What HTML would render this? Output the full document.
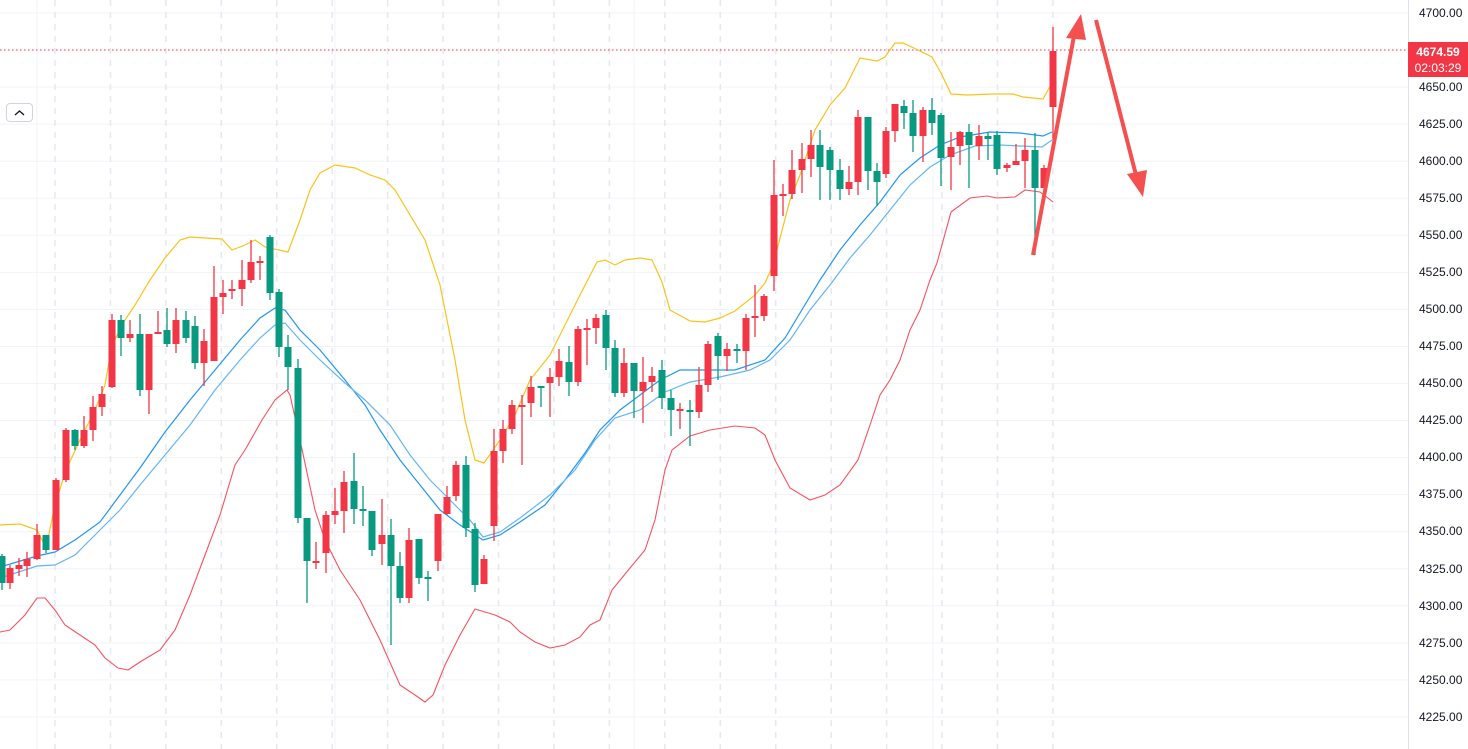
<!DOCTYPE html>
<html><head><meta charset="utf-8"><style>
html,body{margin:0;padding:0;background:#fff;width:1468px;height:749px;overflow:hidden;font-family:"Liberation Sans",sans-serif}
#c{position:absolute;left:0;top:0}
.lb{position:absolute;left:1419px;font-size:12px;color:#131722;line-height:14px}
#btn{position:absolute;left:6px;top:103px;width:25px;height:17px;border:1px solid #d1d4dc;border-radius:4px;background:#fff}
#tag{position:absolute;left:1408px;top:42px;width:60px;height:35px;background:#f23645;color:#fff;font-size:12px;text-align:center;line-height:16px;padding-top:2px;box-sizing:border-box}
</style></head><body>
<svg id="c" width="1468" height="749" xmlns="http://www.w3.org/2000/svg"></svg>
<div id="btn"><svg width="25" height="17"><polyline points="8,11 12.5,7 17,11" fill="none" stroke="#131722" stroke-width="1.3"/></svg></div>
<div class="lb" style="top:6px">4700.00</div>
<div class="lb" style="top:80px">4650.00</div>
<div class="lb" style="top:117px">4625.00</div>
<div class="lb" style="top:154px">4600.00</div>
<div class="lb" style="top:191px">4575.00</div>
<div class="lb" style="top:228px">4550.00</div>
<div class="lb" style="top:265px">4525.00</div>
<div class="lb" style="top:302px">4500.00</div>
<div class="lb" style="top:339px">4475.00</div>
<div class="lb" style="top:376px">4450.00</div>
<div class="lb" style="top:413px">4425.00</div>
<div class="lb" style="top:450px">4400.00</div>
<div class="lb" style="top:487px">4375.00</div>
<div class="lb" style="top:524px">4350.00</div>
<div class="lb" style="top:562px">4325.00</div>
<div class="lb" style="top:599px">4300.00</div>
<div class="lb" style="top:636px">4275.00</div>
<div class="lb" style="top:673px">4250.00</div>
<div class="lb" style="top:710px">4225.00</div>
<div id="tag"><b>4674.59</b><br>02:03:29</div>
<script>
var s='';
for(var i=0;i<20;i++){var y=13+i*37.05;s+='<line x1="0" x2="1408" y1="'+y+'" y2="'+y+'" stroke="#f0f3fa" stroke-width="1"/>';}
[37,335,634,933].forEach(function(x){s+='<line x1="'+x+'" x2="'+x+'" y1="0" y2="749" stroke="#f0f3fa"/>';});
for(var k=0;k<=18;k++){var x=55+k*55.44;s+='<line x1="'+x+'" x2="'+x+'" y1="0" y2="749" stroke="#e6e8ef" stroke-dasharray="6,6" stroke-width="1.5"/>';}
s+='<line x1="1408.5" x2="1408.5" y1="0" y2="749" stroke="#e0e3eb"/>';
s+='<line x1="0" x2="1408" y1="50" y2="50" stroke="#f23645" stroke-dasharray="1.5,2.5"/>';
function pl(p,c,w){s+='<polyline fill="none" stroke="'+c+'" stroke-width="'+w+'" points="'+p+'"/>';}
pl("0,525 20,524 37,530 46,548 55,505 66,470 80,440 95,410 105,385 112,345 125,320 135,305 150,280 165,258 180,240 190,237 205,238 222,239 232,250 245,245 255,240 265,247 288,252 300,220 310,190 320,173 335,165 355,168 370,175 385,180 395,190 410,215 425,240 440,285 455,360 465,420 475,460 484,463 500,440 515,415 530,380 550,355 565,325 580,295 597,262 605,260 615,265 625,260 640,258 652,260 662,282 670,310 690,321 705,322 720,318 735,311 755,295 765,283 773,265 790,200 800,175 815,130 830,105 845,88 860,58 877,61 885,57 895,43 903,43 918,50 932,57 942,75 951,94 967,95 993,94 1013,94 1023,97 1043,99 1052,83","#fcc21b",1.2);
pl("0,567 37,556 55,552 75,540 100,522 120,495 140,468 165,432 190,400 215,370 240,340 260,318 275,308 285,310 300,330 320,350 345,380 365,405 380,430 400,460 420,485 440,510 460,525 483,540 500,535 520,522 545,505 565,480 585,453 600,430 620,410 640,395 660,380 680,370 710,370 735,370 765,360 785,338 800,313 820,280 840,250 860,225 880,202 900,175 920,158 940,145 960,137 990,132 1020,133 1043,136 1052,132","#2196f3",1.2);
pl("0,578 37,566 55,565 75,555 100,530 120,510 140,485 165,455 190,425 215,390 240,360 260,338 275,325 285,323 300,340 320,360 345,383 365,400 390,425 410,455 430,480 450,500 470,520 483,537 500,532 520,518 550,495 575,470 595,440 615,418 640,410 665,392 690,382 720,377 750,370 770,360 790,340 810,310 830,285 850,258 870,235 890,210 910,185 930,167 950,155 975,146 1000,145 1020,146 1042,147 1052,140","#64b5f6",1.2);
pl("0,632 10,630 25,615 37,598 45,598 55,610 65,625 80,635 95,645 105,658 118,668 128,670 140,662 160,650 175,630 190,595 205,555 220,515 235,465 245,450 262,420 275,400 287,390 290,395 300,440 315,510 325,540 340,570 360,600 380,640 400,685 415,695 425,702 433,695 445,665 460,635 475,609 495,615 510,622 520,632 535,642 550,648 565,645 580,637 590,625 600,620 612,590 630,568 645,550 655,520 665,470 672,450 690,436 710,430 735,426 755,428 765,435 775,460 790,488 810,500 825,495 840,485 858,460 870,425 880,395 890,380 900,360 910,330 920,310 930,280 937,263 951,212 970,198 987,196 997,198 1015,197 1025,190 1040,192 1053,202","#f7525f",1.1);
var C=[[2,556,583,554,590,'g'],[10,568,583,565,589,'r'],[19,565,569,558,576,'r'],[27,559,566,552,577,'r'],[37,535,559,524,560,'r'],[46,535,550,535,553,'g'],[56,480,550,478,550,'r'],[66,430,480,428,482,'r'],[75,430,446,429,450,'g'],[84,430,446,416,448,'r'],[93,407,430,396,441,'r'],[102,394,407,386,416,'r'],[112,320,387,314,388,'r'],[121,320,338,315,356,'g'],[130,334,338,320,342,'r'],[140,334,390,314,396,'g'],[149,334,390,334,414,'r'],[158,332,334,311,334,'r'],[167,330,344,308,347,'g'],[176,320,344,308,353,'r'],[186,320,338,311,343,'g'],[195,326,363,316,369,'g'],[204,341,363,329,386,'r'],[214,297,361,266,361,'r'],[223,293,297,280,314,'r'],[232,289,291,280,299,'r'],[242,280,289,260,306,'r'],[251,262,280,240,283,'r'],[260,261,263,256,280,'r'],[270,237,293,235,300,'g'],[279,292,347,289,357,'g'],[288,347,367,335,390,'g'],[298,368,518,359,523,'g'],[307,518,561,518,603,'g'],[316,561,562,542,569,'r'],[326,515,553,511,573,'r'],[335,511,515,488,524,'r'],[344,482,511,471,533,'r'],[354,481,509,453,524,'g'],[363,509,511,486,526,'g'],[372,511,550,511,556,'g'],[382,535,544,499,565,'r'],[391,535,566,519,645,'g'],[400,566,598,552,603,'g'],[409,540,598,528,603,'r'],[419,539,578,539,584,'g'],[428,577,579,571,601,'g'],[438,514,561,514,571,'r'],[447,497,514,486,515,'r'],[456,465,496,461,501,'r'],[466,465,528,456,537,'g'],[475,529,585,523,592,'g'],[484,559,584,555,584,'r'],[494,451,526,429,541,'r'],[503,429,451,420,463,'r'],[512,405,429,400,434,'r'],[522,405,406,395,465,'r'],[531,387,403,376,417,'r'],[541,386,387,386,407,'g'],[550,377,383,368,417,'r'],[559,361,377,349,386,'r'],[569,362,382,346,396,'g'],[578,329,382,326,386,'r'],[587,328,330,319,365,'r'],[596,318,328,314,344,'r'],[606,315,348,310,370,'g'],[615,348,393,340,397,'g'],[624,363,393,348,397,'r'],[634,363,391,363,418,'g'],[643,382,391,357,423,'r'],[652,376,382,367,392,'r'],[662,370,398,360,409,'g'],[671,398,410,390,436,'g'],[680,409,410,403,429,'r'],[690,410,411,400,446,'g'],[699,385,412,367,418,'r'],[708,344,385,341,392,'r'],[718,336,356,333,380,'g'],[727,349,356,343,371,'r'],[737,349,350,344,363,'g'],[746,318,351,314,370,'r'],[755,316,318,285,337,'r'],[764,296,316,294,321,'r'],[774,195,276,160,291,'r'],[783,194,195,184,216,'r'],[792,170,194,150,199,'r'],[802,159,170,143,193,'r'],[811,145,159,130,177,'r'],[820,145,167,130,200,'g'],[830,150,170,147,200,'g'],[840,170,189,159,200,'g'],[849,182,189,166,195,'r'],[858,117,182,110,195,'r'],[868,117,171,117,190,'g'],[877,171,182,163,206,'g'],[886,131,174,127,178,'r'],[895,104,131,104,142,'r'],[904,106,113,100,129,'g'],[913,113,136,100,152,'g'],[923,110,136,107,162,'r'],[932,110,123,98,135,'g'],[941,115,158,113,186,'g'],[951,147,157,132,190,'r'],[960,132,146,131,165,'r'],[969,132,145,124,188,'g'],[979,136,146,125,160,'r'],[988,136,139,132,160,'g'],[997,135,169,131,175,'g'],[1007,165,168,163,172,'r'],[1016,161,165,144,165,'r'],[1025,150,161,138,188,'r'],[1035,150,188,133,255,'g'],[1044,168,188,165,188,'r'],[1053,51,107,27,140,'r']];
C.forEach(function(c){var col=c[5]=='r'?'#f23645':'#089981';var h=Math.max(2,c[2]-c[1]);
s+='<line x1="'+c[0]+'" x2="'+c[0]+'" y1="'+c[3]+'" y2="'+c[4]+'" stroke="'+col+'" stroke-width="1.3"/>';
s+='<rect x="'+(c[0]-3.5)+'" y="'+c[1]+'" width="7" height="'+h+'" fill="'+col+'"/>';});
s+='<line x1="1033" y1="255" x2="1074" y2="36" stroke="#f55050" stroke-width="4"/>';
s+='<polygon points="1081,14 1066,38 1086,40" fill="#f55050"/>';
s+='<line x1="1096" y1="20" x2="1136" y2="175" stroke="#f55050" stroke-width="4"/>';
s+='<polygon points="1143,197 1127,174 1147,170" fill="#f55050"/>';
document.getElementById('c').innerHTML=s;
</script>
</body></html>
